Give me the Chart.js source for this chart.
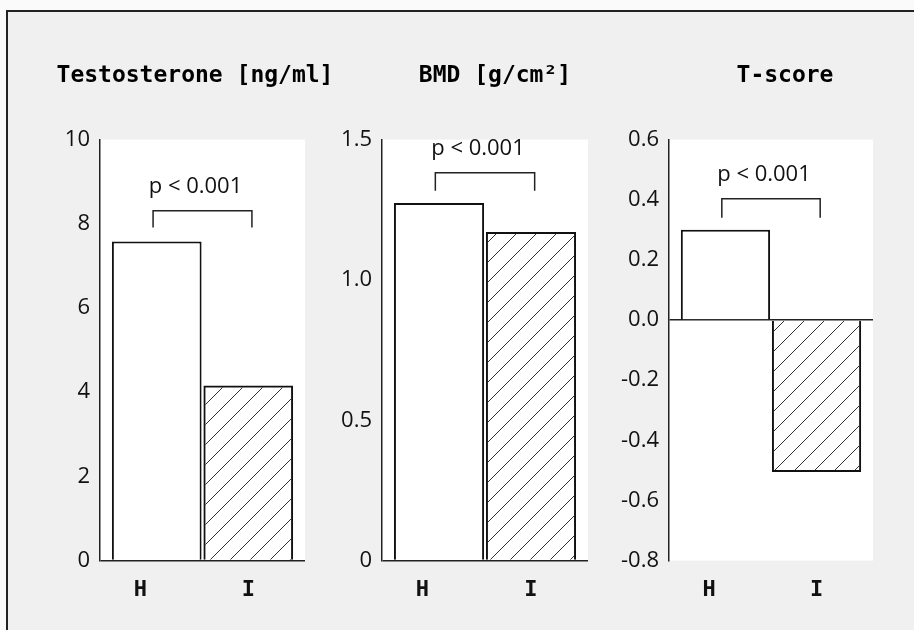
<!DOCTYPE html>
<html>
<head>
<meta charset="utf-8">
<script src="https://cdn.jsdelivr.net/npm/chart.js@4.4.1/dist/chart.umd.min.js"></script>
<style>
  html, body { margin: 0; overflow: hidden; }
  body { width: 914px; height: 630px; background: #fafafa; position: relative; }
  #frame { position: absolute; left: 6px; top: 10px; width: 908px; height: 620px; background: #f0f0f1;
           border-top: 2px solid #222; border-left: 2px solid #222; }
  canvas { position: absolute; }
</style>
</head>
<body>
<div id="frame"></div>
<canvas id="c1" width="335" height="599" style="left:10px;top:20px"></canvas>
<canvas id="c2" width="330" height="599" style="left:330px;top:20px"></canvas>
<canvas id="c3" width="355" height="599" style="left:605px;top:20px"></canvas>
<script>
// groups on the x axis
const groups = ["H", "I"];

// bar values
const testosterone = [7.58, 4.16];
const bmd = [1.274, 1.171];
const tScore = [0.30, -0.505];

// y tick values and their labels
const testoTicks = [0, 2, 4, 6, 8, 10];
const testoLabels = ["0", "2", "4", "6", "8", "10"];
const bmdTicks = [0, 0.5, 1.0, 1.5];
const bmdLabels = ["0", "0.5", "1.0", "1.5"];
const tTicks = [-0.8, -0.6, -0.4, -0.2, 0, 0.2, 0.4, 0.6];
const tLabels = ["-0.8", "-0.6", "-0.4", "-0.2", "0.0", "0.2", "0.4", "0.6"];

const pText = "p < 0.001";

// diagonal hatch for the I bars
function hatch() {
  const c = document.createElement("canvas");
  c.width = 20; c.height = 20;
  const g = c.getContext("2d");
  g.strokeStyle = "#333";
  g.lineWidth = 1;
  g.beginPath();
  g.moveTo(0, 20); g.lineTo(20, 0);
  g.moveTo(-5, 5); g.lineTo(5, -5);
  g.moveTo(15, 25); g.lineTo(25, 15);
  g.stroke();
  return g.createPattern(c, "repeat");
}

const whiteArea = {
  id: "whiteArea",
  beforeDraw(chart) {
    const { ctx, chartArea: a } = chart;
    ctx.save();
    ctx.fillStyle = "#fff";
    ctx.fillRect(a.left, a.top, a.right - a.left, a.bottom - a.top);
    ctx.restore();
  }
};

const bracket = {
  id: "bracket",
  afterDatasetsDraw(chart, args, opts) {
    const { ctx, scales: { x, y } } = chart;
    const x0 = x.getPixelForValue(opts.from);
    const x1 = x.getPixelForValue(opts.to);
    const yt = y.getPixelForValue(opts.top);
    const yb = y.getPixelForValue(opts.leg);
    ctx.save();
    ctx.strokeStyle = "#222";
    ctx.lineWidth = 1.5;
    ctx.beginPath();
    ctx.moveTo(x0, yb); ctx.lineTo(x0, yt); ctx.lineTo(x1, yt); ctx.lineTo(x1, yb);
    ctx.stroke();
    ctx.fillStyle = "#111";
    ctx.font = "22px 'Open Sans'";
    ctx.textAlign = "center";
    ctx.textBaseline = "middle";
    ctx.fillText(pText, (x0 + x1) / 2 - 7, yt - 24);
    ctx.restore();
  }
};

function makePanel(id, title, values, ticks, labels, pad, yWidth, rightWidth, br) {
  const scales = {
    x: {
      type: "linear",
      min: -0.62,
      max: 1.62,
      offset: false,
      grid: { display: false, drawTicks: false },
      border: { display: false },
      // the H label sits a little left of its bar in the original
      afterBuildTicks: (s) => { s.ticks = [{ value: -0.18 }, { value: 1 }]; },
      ticks: {
        padding: 16,
        color: "#111",
        font: { family: "'DejaVu Sans Mono'", size: 22, weight: "bold" },
        callback: (v, i) => groups[i]
      }
    },
    y: {
      min: ticks[0],
      max: ticks[ticks.length - 1],
      afterBuildTicks: (s) => { s.ticks = ticks.map((v) => ({ value: v })); },
      afterFit: (s) => { s.width = yWidth; },
      grid: {
        drawTicks: false,
        color: (c) => (c.tick && Math.abs(c.tick.value) < 1e-9 ? "#222" : "transparent"),
        lineWidth: 1.5
      },
      border: { display: true, color: "#222", width: 1.5 },
      ticks: {
        padding: 10,
        color: "#111",
        font: { family: "'Open Sans'", size: 22 },
        callback: (v, i) => labels[i]
      }
    },
    // empty right-hand box, only there to place the title like the original
    pad: {
      type: "linear",
      position: "right",
      display: true,
      grid: { display: false, drawTicks: false },
      border: { display: false },
      ticks: { display: false },
      afterFit: (s) => { s.width = rightWidth; }
    }
  };
  return new Chart(document.getElementById(id), {
    type: "bar",
    data: {
      datasets: [{
        data: values.map((v, i) => ({ x: i, y: v })),
        backgroundColor: ["#fff", hatch()],
        borderColor: "#111",
        borderWidth: 2,
        borderSkipped: "start",
        barPercentage: 1,
        categoryPercentage: 0.98
      }]
    },
    options: {
      responsive: false,
      animation: false,
      devicePixelRatio: 1,
      layout: { padding: { left: pad[0], right: pad[1], top: 0, bottom: 0 } },
      scales,
      plugins: {
        legend: { display: false },
        tooltip: { enabled: false },
        title: {
          display: true,
          text: title,
          color: "#000",
          font: { family: "'DejaVu Sans Mono'", size: 23, weight: "bold" },
          padding: { top: 42, bottom: 50 }
        },
        bracket: br
      }
    },
    plugins: [whiteArea, bracket]
  });
}

makePanel("c1", "Testosterone [ng/ml]", testosterone, testoTicks, testoLabels, [40, 5], 50, 35,
  { from: -0.04, to: 1.04, top: 8.31, leg: 7.91 });
makePanel("c2", "BMD [g/cm²]", bmd, bmdTicks, bmdLabels, [2, 2], 50, 70,
  { from: -0.04, to: 1.04, top: 1.382, leg: 1.318 });
makePanel("c3", "T-score", tScore, tTicks, tLabels, [9, 4], 55, 83,
  { from: -0.04, to: 1.04, top: 0.403, leg: 0.34 });
</script>
</body>
</html>
